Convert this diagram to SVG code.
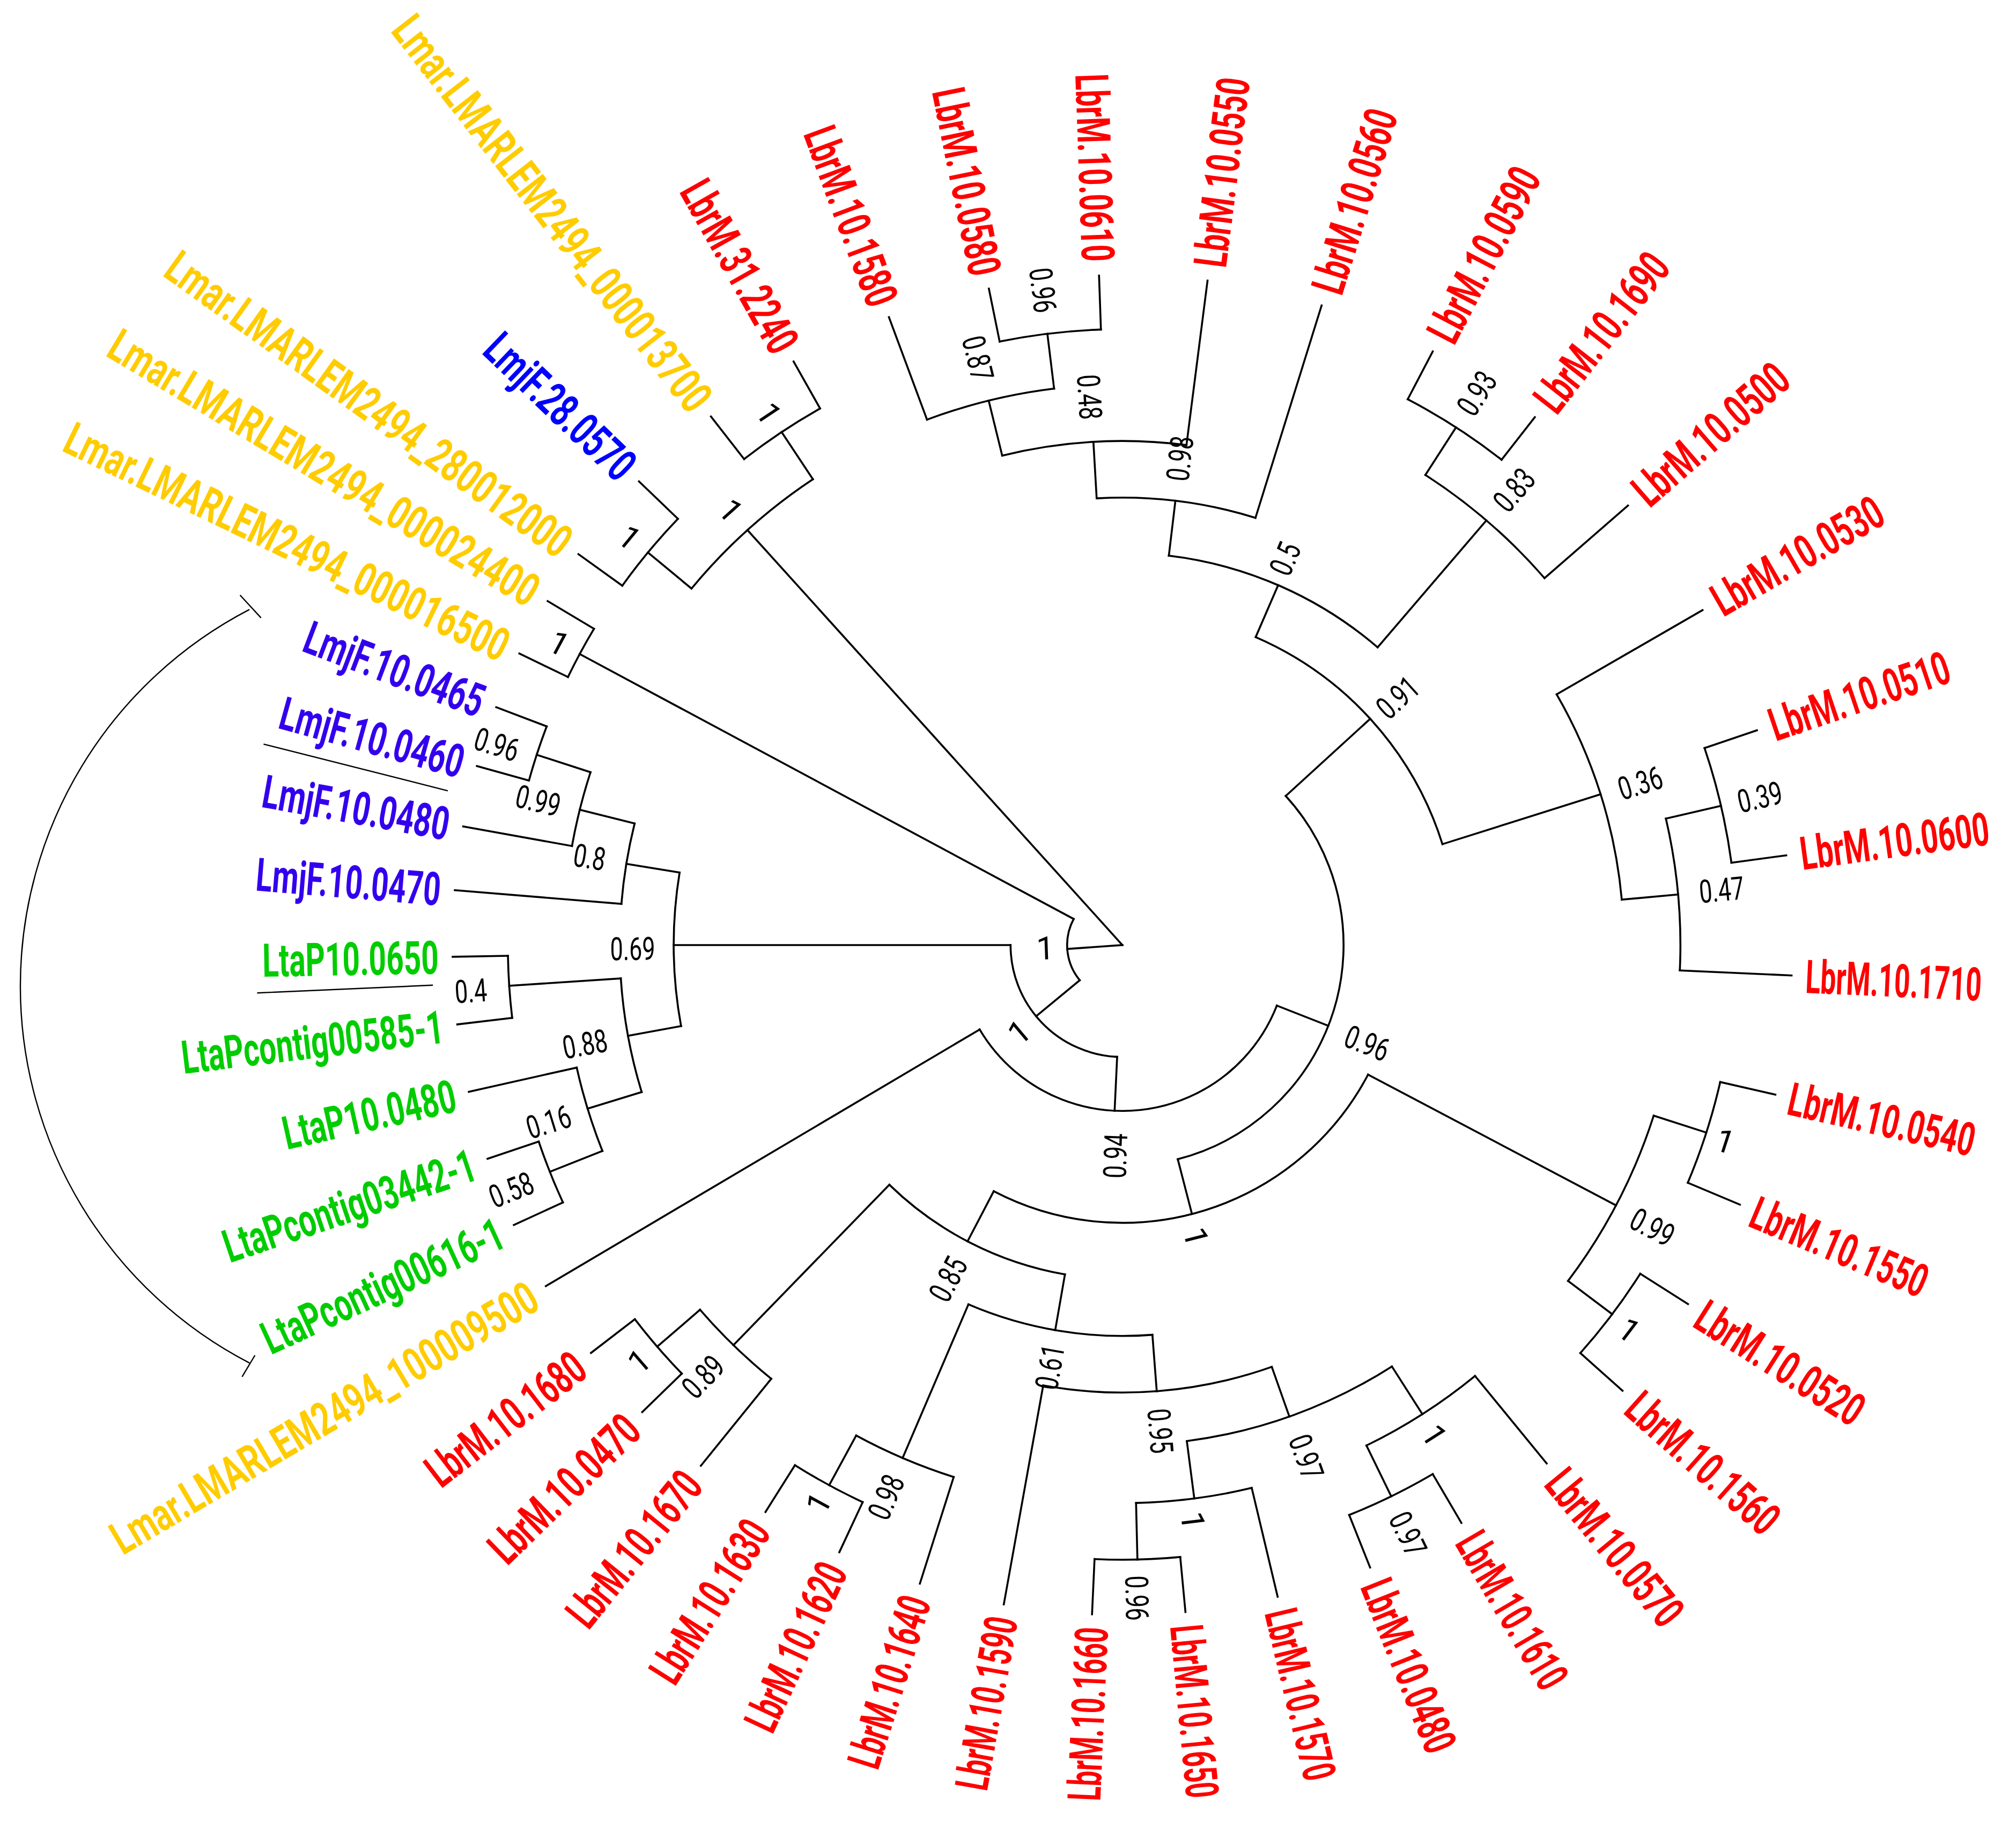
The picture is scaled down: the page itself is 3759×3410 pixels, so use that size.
<svg xmlns="http://www.w3.org/2000/svg" width="3759" height="3410" viewBox="0 0 3759 3410">
<style>
.br{fill:none;stroke:#000;stroke-width:1.5;stroke-linecap:square}
.th{fill:none;stroke:#000;stroke-width:1}
.lf{font-family:Roboto,"Liberation Sans",sans-serif;font-weight:700;font-size:36px}
.sp{font-family:Roboto,"Liberation Sans",sans-serif;font-size:25px;fill:#000;text-anchor:middle}
.r{fill:#ff0000}.y{fill:#ffcc00}.b{fill:#0000ff}.v{fill:#3300ee}.g{fill:#00cc00}
.e{text-anchor:end}
</style>
<rect width="3759" height="3410" fill="#fff"/>
<g transform="scale(2.3973)">
<g id="connectors" class="br" transform="translate(873,735)">
<line x2="43" transform="rotate(176)"/>
<line x1="43" x2="87" transform="rotate(140.5)"/>
<line x1="87" x2="129" transform="rotate(92.7)"/>
<line x1="129" x2="172" transform="rotate(21.4)"/>
<line x1="172" x2="216" transform="rotate(75.5)"/>
<line x1="172" x2="261" transform="rotate(-42.4)"/>
<line x1="261" x2="305" transform="rotate(-66.6)"/>
<line x1="305" x2="348" transform="rotate(-83.2)"/>
<line x1="348" x2="392" transform="rotate(-93.3)"/>
<line x1="392" x2="436" transform="rotate(-103.8)"/>
<line x1="436" x2="479" transform="rotate(-97)"/>
<line x1="305" x2="435" transform="rotate(-49.4)"/>
<line x1="435" x2="479" transform="rotate(-57.2)"/>
<line x1="261" x2="390" transform="rotate(-17.5)"/>
<line x1="390" x2="434" transform="rotate(-5.2)"/>
<line x1="434" x2="478" transform="rotate(-13.1)"/>
<line x1="216" x2="434" transform="rotate(27.8)"/>
<line x1="434" x2="477" transform="rotate(17.8)"/>
<line x1="434" x2="477" transform="rotate(37)"/>
<line x1="216" x2="260" transform="rotate(117.6)"/>
<line x1="260" x2="304" transform="rotate(99.9)"/>
<line x1="304" x2="348" transform="rotate(85.6)"/>
<line x1="348" x2="389" transform="rotate(70.5)"/>
<line x1="389" x2="434" transform="rotate(82.6)"/>
<line x1="434" x2="478" transform="rotate(88.6)"/>
<line x1="389" x2="433" transform="rotate(57.4)"/>
<line x1="433" x2="477" transform="rotate(64)"/>
<line x1="304" x2="434" transform="rotate(113.2)"/>
<line x1="434" x2="478" transform="rotate(118.5)"/>
<line x1="260" x2="434" transform="rotate(134.2)"/>
<line x1="434" x2="478" transform="rotate(139.2)"/>
<line x1="87" x2="349" transform="rotate(180)"/>
<line x1="349" x2="391" transform="rotate(189.3)"/>
<line x1="391" x2="435" transform="rotate(194)"/>
<line x1="435" x2="479" transform="rotate(198)"/>
<line x1="349" x2="391" transform="rotate(169.6)"/>
<line x1="391" x2="478" transform="rotate(176.2)"/>
<line x1="391" x2="435" transform="rotate(163)"/>
<line x1="435" x2="479" transform="rotate(158.4)"/>
<line x2="435" transform="rotate(-132.1)"/>
<line x1="435" x2="479" transform="rotate(-140.4)"/>
<line x1="435" x2="479" transform="rotate(-123.6)"/>
<line x1="43" x2="479" transform="rotate(208.2)"/>
<line x1="479" x2="521" transform="rotate(-119.4)"/>
<line x1="479" x2="521" transform="rotate(-127.9)"/>
<line x1="479" x2="521" transform="rotate(-136.2)"/>
<line x1="479" x2="521" transform="rotate(-144.3)"/>
<line x1="479" x2="521" transform="rotate(-149.1)"/>
<line x1="479" x2="521" transform="rotate(-154.2)"/>
<line x1="479" x2="521" transform="rotate(-159.2)"/>
<line x1="479" x2="521" transform="rotate(-164.5)"/>
<line x1="435" x2="521" transform="rotate(-169.8)"/>
<line x1="391" x2="521" transform="rotate(-175.3)"/>
<line x1="478" x2="521" transform="rotate(179)"/>
<line x1="478" x2="521" transform="rotate(173.2)"/>
<line x1="435" x2="521" transform="rotate(167.35)"/>
<line x1="479" x2="521" transform="rotate(161.4)"/>
<line x1="479" x2="521" transform="rotate(155.3)"/>
<line x1="129" x2="521" transform="rotate(149.4)"/>
<line x1="478" x2="521" transform="rotate(142.5)"/>
<line x1="478" x2="521" transform="rotate(135.8)"/>
<line x1="434" x2="521" transform="rotate(129)"/>
<line x1="478" x2="521" transform="rotate(122.2)"/>
<line x1="478" x2="521" transform="rotate(115)"/>
<line x1="434" x2="521" transform="rotate(107.6)"/>
<line x1="348" x2="521" transform="rotate(100.2)"/>
<line x1="478" x2="521" transform="rotate(92.6)"/>
<line x1="478" x2="521" transform="rotate(84.6)"/>
<line x1="434" x2="521" transform="rotate(76.6)"/>
<line x1="477" x2="521" transform="rotate(68.3)"/>
<line x1="477" x2="521" transform="rotate(59.6)"/>
<line x1="433" x2="521" transform="rotate(50.7)"/>
<line x1="477" x2="521" transform="rotate(41.7)"/>
<line x1="477" x2="521" transform="rotate(32.4)"/>
<line x1="477" x2="521" transform="rotate(22.8)"/>
<line x1="477" x2="521" transform="rotate(12.9)"/>
<line x1="434" x2="521" transform="rotate(2.6)"/>
<line x1="478" x2="521" transform="rotate(-7.7)"/>
<line x1="478" x2="521" transform="rotate(-18.7)"/>
<line x1="390" x2="521" transform="rotate(-30)"/>
<line x1="435" x2="521" transform="rotate(-41)"/>
<line x1="479" x2="521" transform="rotate(-52)"/>
<line x1="479" x2="521" transform="rotate(-62.4)"/>
<line x1="348" x2="521" transform="rotate(-72.7)"/>
<line x1="392" x2="521" transform="rotate(-82.7)"/>
<line x1="479" x2="521" transform="rotate(-92)"/>
<line x1="479" x2="521" transform="rotate(-101.5)"/>
<line x1="436" x2="521" transform="rotate(-110.4)"/>
<circle r="43" stroke-dasharray="50.81 5000" transform="rotate(140.5)"/>
<circle r="87" stroke-dasharray="132.56 5000" transform="rotate(92.7)"/>
<circle r="129" stroke-dasharray="288.19 5000" transform="rotate(21.4)"/>
<circle r="172" stroke-dasharray="353.93 5000" transform="rotate(-42.4)"/>
<circle r="216" stroke-dasharray="338.54 5000" transform="rotate(27.8)"/>
<circle r="261" stroke-dasharray="223.67 5000" transform="rotate(-66.6)"/>
<circle r="305" stroke-dasharray="179.93 5000" transform="rotate(-83.2)"/>
<circle r="348" stroke-dasharray="125.12 5000" transform="rotate(-93.3)"/>
<circle r="392" stroke-dasharray="144.36 5000" transform="rotate(-103.8)"/>
<circle r="436" stroke-dasharray="101.97 5000" transform="rotate(-110.4)"/>
<circle r="479" stroke-dasharray="79.42 5000" transform="rotate(-101.5)"/>
<circle r="435" stroke-dasharray="123 5000" transform="rotate(-57.2)"/>
<circle r="479" stroke-dasharray="86.95 5000" transform="rotate(-62.4)"/>
<circle r="390" stroke-dasharray="168.81 5000" transform="rotate(-30)"/>
<circle r="434" stroke-dasharray="118.92 5000" transform="rotate(-13.1)"/>
<circle r="478" stroke-dasharray="91.77 5000" transform="rotate(-18.7)"/>
<circle r="434" stroke-dasharray="145.44 5000" transform="rotate(17.8)"/>
<circle r="477" stroke-dasharray="82.42 5000" transform="rotate(12.9)"/>
<circle r="477" stroke-dasharray="77.42 5000" transform="rotate(32.4)"/>
<circle r="260" stroke-dasharray="155.65 5000" transform="rotate(99.9)"/>
<circle r="304" stroke-dasharray="146.44 5000" transform="rotate(85.6)"/>
<circle r="348" stroke-dasharray="180.39 5000" transform="rotate(70.5)"/>
<circle r="389" stroke-dasharray="171.09 5000" transform="rotate(57.4)"/>
<circle r="434" stroke-dasharray="90.9 5000" transform="rotate(76.6)"/>
<circle r="478" stroke-dasharray="66.74 5000" transform="rotate(84.6)"/>
<circle r="433" stroke-dasharray="100.51 5000" transform="rotate(50.7)"/>
<circle r="477" stroke-dasharray="72.43 5000" transform="rotate(59.6)"/>
<circle r="434" stroke-dasharray="82.56 5000" transform="rotate(107.6)"/>
<circle r="478" stroke-dasharray="60.07 5000" transform="rotate(115)"/>
<circle r="434" stroke-dasharray="77.26 5000" transform="rotate(129)"/>
<circle r="478" stroke-dasharray="55.9 5000" transform="rotate(135.8)"/>
<circle r="349" stroke-dasharray="120 5000" transform="rotate(169.6)"/>
<circle r="391" stroke-dasharray="63.47 5000" transform="rotate(184.7)"/>
<circle r="435" stroke-dasharray="59.22 5000" transform="rotate(190.2)"/>
<circle r="479" stroke-dasharray="44.31 5000" transform="rotate(195.5)"/>
<circle r="391" stroke-dasharray="90.08 5000" transform="rotate(163)"/>
<circle r="478" stroke-dasharray="48.39 5000" transform="rotate(173.2)"/>
<circle r="435" stroke-dasharray="67.95 5000" transform="rotate(158.4)"/>
<circle r="479" stroke-dasharray="51 5000" transform="rotate(155.3)"/>
<circle r="435" stroke-dasharray="127.55 5000" transform="rotate(-140.4)"/>
<circle r="479" stroke-dasharray="67.72 5000" transform="rotate(-144.3)"/>
<circle r="479" stroke-dasharray="71.06 5000" transform="rotate(-127.9)"/>
<circle r="479" stroke-dasharray="42.64 5000" transform="rotate(-154.2)"/>
</g>
<g id="bracket">
<path class="th" d="M194,474 A330,330 0 0 0 194,1060"/>
<line class="th" x1="186.7" y1="462.8" x2="203" y2="480.5"/>
<line class="th" x1="188.3" y1="1070.7" x2="198.3" y2="1054"/>
<line class="th" x1="205" y1="578.7" x2="348.3" y2="615"/>
<line class="th" x1="200" y1="772.2" x2="336.7" y2="766.2"/>
</g>
<g id="support">
<g id="n-s" transform="translate(873,735) rotate(178) translate(60,0) rotate(180)"><text class="sp" dy="0.36em">1</text></g>
<g id="n-a" transform="translate(873,735) rotate(140) translate(105,0) rotate(180)"><text class="sp" dy="0.36em">1</text></g>
<g id="n-b" transform="translate(873,735) rotate(92) translate(164,0) rotate(180)"><text class="sp" dy="0.36em" textLength="35" lengthAdjust="spacingAndGlyphs">0.94</text></g>
<g id="n-d" transform="translate(873,735) rotate(21.8) translate(205,0)"><text class="sp" dy="0.36em" textLength="35" lengthAdjust="spacingAndGlyphs">0.96</text></g>
<g id="n-e" transform="translate(873,735) rotate(75.8) translate(234,0)"><text class="sp" dy="0.36em">1</text></g>
<g id="n-91" transform="translate(873,735) rotate(-42) translate(288,0)"><text class="sp" dy="0.36em" textLength="35" lengthAdjust="spacingAndGlyphs">0.91</text></g>
<g id="n-5" transform="translate(873,735) rotate(-67.2) translate(326,0)"><text class="sp" dy="0.36em" textLength="25" lengthAdjust="spacingAndGlyphs">0.5</text></g>
<g id="n-98t" transform="translate(873,735) rotate(-83.3) translate(381,0)"><text class="sp" dy="0.36em" textLength="35" lengthAdjust="spacingAndGlyphs">0.98</text></g>
<g id="n-48" transform="translate(873,735) rotate(-93.4) translate(427,0) rotate(180)"><text class="sp" dy="0.36em" textLength="35" lengthAdjust="spacingAndGlyphs">0.48</text></g>
<g id="n-87" transform="translate(873,735) rotate(-103.8) translate(470,0) rotate(180)"><text class="sp" dy="0.36em" textLength="35" lengthAdjust="spacingAndGlyphs">0.87</text></g>
<g id="n-96t" transform="translate(873,735) rotate(-96.9) translate(513,0) rotate(180)"><text class="sp" dy="0.36em" textLength="35" lengthAdjust="spacingAndGlyphs">0.96</text></g>
<g id="n-83" transform="translate(873,735) rotate(-49.3) translate(467,0)"><text class="sp" dy="0.36em" textLength="35" lengthAdjust="spacingAndGlyphs">0.83</text></g>
<g id="n-93" transform="translate(873,735) rotate(-57.3) translate(510,0)"><text class="sp" dy="0.36em" textLength="35" lengthAdjust="spacingAndGlyphs">0.93</text></g>
<g id="n-36" transform="translate(873,735) rotate(-17.4) translate(422,0)"><text class="sp" dy="0.36em" textLength="35" lengthAdjust="spacingAndGlyphs">0.36</text></g>
<g id="n-47" transform="translate(873,735) rotate(-5.3) translate(468,0)"><text class="sp" dy="0.36em" textLength="35" lengthAdjust="spacingAndGlyphs">0.47</text></g>
<g id="n-39" transform="translate(873,735) rotate(-13.1) translate(509,0)"><text class="sp" dy="0.36em" textLength="35" lengthAdjust="spacingAndGlyphs">0.39</text></g>
<g id="n-99r" transform="translate(873,735) rotate(28) translate(467,0)"><text class="sp" dy="0.36em" textLength="35" lengthAdjust="spacingAndGlyphs">0.99</text></g>
<g id="n-1ru" transform="translate(873,735) rotate(18) translate(493,0)"><text class="sp" dy="0.36em">1</text></g>
<g id="n-1rl" transform="translate(873,735) rotate(37.2) translate(495,0)"><text class="sp" dy="0.36em">1</text></g>
<g id="n-85" transform="translate(873,735) rotate(117.6) translate(293,0) rotate(180)"><text class="sp" dy="0.36em" textLength="35" lengthAdjust="spacingAndGlyphs">0.85</text></g>
<g id="n-61" transform="translate(873,735) rotate(99.8) translate(333,0) rotate(180)"><text class="sp" dy="0.36em" textLength="35" lengthAdjust="spacingAndGlyphs">0.61</text></g>
<g id="n-95" transform="translate(873,735) rotate(85.5) translate(379,0)"><text class="sp" dy="0.36em" textLength="35" lengthAdjust="spacingAndGlyphs">0.95</text></g>
<g id="n-97a" transform="translate(873,735) rotate(70.2) translate(423,0)"><text class="sp" dy="0.36em" textLength="35" lengthAdjust="spacingAndGlyphs">0.97</text></g>
<g id="n-1b" transform="translate(873,735) rotate(83) translate(451,0)"><text class="sp" dy="0.36em">1</text></g>
<g id="n-1c" transform="translate(873,735) rotate(57.5) translate(452,0)"><text class="sp" dy="0.36em">1</text></g>
<g id="n-97b" transform="translate(873,735) rotate(64.1) translate(509,0)"><text class="sp" dy="0.36em" textLength="35" lengthAdjust="spacingAndGlyphs">0.97</text></g>
<g id="n-96b" transform="translate(873,735) rotate(88.7) translate(508,0)"><text class="sp" dy="0.36em" textLength="35" lengthAdjust="spacingAndGlyphs">0.96</text></g>
<g id="n-98b" transform="translate(873,735) rotate(113.2) translate(467,0) rotate(180)"><text class="sp" dy="0.36em" textLength="35" lengthAdjust="spacingAndGlyphs">0.98</text></g>
<g id="n-1d" transform="translate(873,735) rotate(118.6) translate(494,0) rotate(180)"><text class="sp" dy="0.36em">1</text></g>
<g id="n-89" transform="translate(873,735) rotate(134.2) translate(468,0) rotate(180)"><text class="sp" dy="0.36em" textLength="35" lengthAdjust="spacingAndGlyphs">0.89</text></g>
<g id="n-1e" transform="translate(873,735) rotate(139.3) translate(496,0) rotate(180)"><text class="sp" dy="0.36em">1</text></g>
<g id="n-top" transform="translate(873,735) rotate(-132) translate(455,0) rotate(180)"><text class="sp" dy="0.36em">1</text></g>
<g id="n-1f" transform="translate(873,735) rotate(-140.4) translate(497.5,0) rotate(180)"><text class="sp" dy="0.36em">1</text></g>
<g id="n-1g" transform="translate(873,735) rotate(-123.6) translate(496.5,0) rotate(180)"><text class="sp" dy="0.36em">1</text></g>
<g id="n-1h" transform="translate(873,735) rotate(-151.8) translate(497,0) rotate(180)"><text class="sp" dy="0.36em">1</text></g>
<g id="n-69" transform="translate(873,735) rotate(179.6) translate(381,0) rotate(180)"><text class="sp" dy="0.36em" textLength="35" lengthAdjust="spacingAndGlyphs">0.69</text></g>
<g id="n-8" transform="translate(873,735) rotate(-170.6) translate(420,0) rotate(180)"><text class="sp" dy="0.36em" textLength="25" lengthAdjust="spacingAndGlyphs">0.8</text></g>
<g id="n-99l" transform="translate(873,735) rotate(-166.1) translate(468,0) rotate(180)"><text class="sp" dy="0.36em" textLength="35" lengthAdjust="spacingAndGlyphs">0.99</text></g>
<g id="n-96l" transform="translate(873,735) rotate(-162.2) translate(511,0) rotate(180)"><text class="sp" dy="0.36em" textLength="35" lengthAdjust="spacingAndGlyphs">0.96</text></g>
<g id="n-88" transform="translate(873,735) rotate(169.6) translate(425,0) rotate(180)"><text class="sp" dy="0.36em" textLength="35" lengthAdjust="spacingAndGlyphs">0.88</text></g>
<g id="n-4" transform="translate(873,735) rotate(176) translate(508,0) rotate(180)"><text class="sp" dy="0.36em" textLength="25" lengthAdjust="spacingAndGlyphs">0.4</text></g>
<g id="n-16" transform="translate(873,735) rotate(162.9) translate(467,0) rotate(180)"><text class="sp" dy="0.36em" textLength="35" lengthAdjust="spacingAndGlyphs">0.16</text></g>
<g id="n-58" transform="translate(873,735) rotate(158.2) translate(512,0) rotate(180)"><text class="sp" dy="0.36em" textLength="35" lengthAdjust="spacingAndGlyphs">0.58</text></g>
</g>
<g id="leaves">
<g id="leaf-LbrM.31.2240" transform="translate(873,735) rotate(-119.4) translate(532,0) rotate(180)"><text class="lf r e" dy="0.36em" textLength="148" lengthAdjust="spacingAndGlyphs">LbrM.31.2240</text></g>
<g id="leaf-Lmar13700" transform="translate(873,735) rotate(-127.9) translate(532,0) rotate(180)"><text class="lf y e" dy="0.36em" textLength="379" lengthAdjust="spacingAndGlyphs">Lmar.LMARLEM2494_000013700</text></g>
<g id="leaf-LmjF.28.0570" transform="translate(873,735) rotate(-136.2) translate(532,0) rotate(180)"><text class="lf b e" dy="0.36em" textLength="147" lengthAdjust="spacingAndGlyphs">LmjF.28.0570</text></g>
<g id="leaf-Lmar280012000" transform="translate(873,735) rotate(-144.3) translate(532,0) rotate(180)"><text class="lf y e" dy="0.36em" textLength="379" lengthAdjust="spacingAndGlyphs">Lmar.LMARLEM2494_280012000</text></g>
<g id="leaf-Lmar24400" transform="translate(873,735) rotate(-149.1) translate(532,0) rotate(180)"><text class="lf y e" dy="0.36em" textLength="383" lengthAdjust="spacingAndGlyphs">Lmar.LMARLEM2494_000024400</text></g>
<g id="leaf-Lmar16500" transform="translate(873,735) rotate(-154.2) translate(532,0) rotate(180)"><text class="lf y e" dy="0.36em" textLength="379" lengthAdjust="spacingAndGlyphs">Lmar.LMARLEM2494_000016500</text></g>
<g id="leaf-LmjF.10.0465" transform="translate(873,735) rotate(-159.2) translate(532,0) rotate(180)"><text class="lf v e" dy="0.36em" textLength="147" lengthAdjust="spacingAndGlyphs">LmjF.10.0465</text></g>
<g id="leaf-LmjF.10.0460" transform="translate(873,735) rotate(-164.5) translate(532,0) rotate(180)"><text class="lf v e" dy="0.36em" textLength="147" lengthAdjust="spacingAndGlyphs">LmjF.10.0460</text></g>
<g id="leaf-LmjF.10.0480" transform="translate(873,735) rotate(-169.8) translate(532,0) rotate(180)"><text class="lf v e" dy="0.36em" textLength="147" lengthAdjust="spacingAndGlyphs">LmjF.10.0480</text></g>
<g id="leaf-LmjF.10.0470" transform="translate(873,735) rotate(-175.3) translate(532,0) rotate(180)"><text class="lf v e" dy="0.36em" textLength="144" lengthAdjust="spacingAndGlyphs">LmjF.10.0470</text></g>
<g id="leaf-LtaP10.0650" transform="translate(873,735) rotate(179) translate(532,0) rotate(180)"><text class="lf g e" dy="0.36em" textLength="137" lengthAdjust="spacingAndGlyphs">LtaP10.0650</text></g>
<g id="leaf-LtaPcontig00585-1" transform="translate(873,735) rotate(173.2) translate(532,0) rotate(180)"><text class="lf g e" dy="0.36em" textLength="205" lengthAdjust="spacingAndGlyphs">LtaPcontig00585-1</text></g>
<g id="leaf-LtaP10.0480" transform="translate(873,735) rotate(167.35) translate(532,0) rotate(180)"><text class="lf g e" dy="0.36em" textLength="137" lengthAdjust="spacingAndGlyphs">LtaP10.0480</text></g>
<g id="leaf-LtaPcontig03442-1" transform="translate(873,735) rotate(161.4) translate(532,0) rotate(180)"><text class="lf g e" dy="0.36em" textLength="205" lengthAdjust="spacingAndGlyphs">LtaPcontig03442-1</text></g>
<g id="leaf-LtaPcontig00616-1" transform="translate(873,735) rotate(155.3) translate(532,0) rotate(180)"><text class="lf g e" dy="0.36em" textLength="203" lengthAdjust="spacingAndGlyphs">LtaPcontig00616-1</text></g>
<g id="leaf-Lmar100009500" transform="translate(873,735) rotate(149.4) translate(532,0) rotate(180)"><text class="lf y e" dy="0.36em" textLength="379" lengthAdjust="spacingAndGlyphs">Lmar.LMARLEM2494_100009500</text></g>
<g id="leaf-LbrM.10.1680" transform="translate(873,735) rotate(142.5) translate(532,0) rotate(180)"><text class="lf r e" dy="0.36em" textLength="146" lengthAdjust="spacingAndGlyphs">LbrM.10.1680</text></g>
<g id="leaf-LbrM.10.0470" transform="translate(873,735) rotate(135.8) translate(532,0) rotate(180)"><text class="lf r e" dy="0.36em" textLength="148" lengthAdjust="spacingAndGlyphs">LbrM.10.0470</text></g>
<g id="leaf-LbrM.10.1670" transform="translate(873,735) rotate(129) translate(532,0) rotate(180)"><text class="lf r e" dy="0.36em" textLength="144" lengthAdjust="spacingAndGlyphs">LbrM.10.1670</text></g>
<g id="leaf-LbrM.10.1630" transform="translate(873,735) rotate(122.2) translate(532,0) rotate(180)"><text class="lf r e" dy="0.36em" textLength="142" lengthAdjust="spacingAndGlyphs">LbrM.10.1630</text></g>
<g id="leaf-LbrM.10.1620" transform="translate(873,735) rotate(115) translate(532,0) rotate(180)"><text class="lf r e" dy="0.36em" textLength="140" lengthAdjust="spacingAndGlyphs">LbrM.10.1620</text></g>
<g id="leaf-LbrM.10.1640" transform="translate(873,735) rotate(107.6) translate(532,0) rotate(180)"><text class="lf r e" dy="0.36em" textLength="138" lengthAdjust="spacingAndGlyphs">LbrM.10.1640</text></g>
<g id="leaf-LbrM.10.1590" transform="translate(873,735) rotate(100.2) translate(531,0) rotate(180)"><text class="lf r e" dy="0.36em" textLength="136" lengthAdjust="spacingAndGlyphs">LbrM.10.1590</text></g>
<g id="leaf-LbrM.10.1660" transform="translate(873,735) rotate(92.6) translate(531,0) rotate(180)"><text class="lf r e" dy="0.36em" textLength="135" lengthAdjust="spacingAndGlyphs">LbrM.10.1660</text></g>
<g id="leaf-LbrM.10.1650" transform="translate(873,735) rotate(84.6)"><text class="lf r" x="531" dy="0.36em" textLength="135" lengthAdjust="spacingAndGlyphs">LbrM.10.1650</text></g>
<g id="leaf-LbrM.10.1570" transform="translate(873,735) rotate(76.6)"><text class="lf r" x="531" dy="0.36em" textLength="136" lengthAdjust="spacingAndGlyphs">LbrM.10.1570</text></g>
<g id="leaf-LbrM.10.0480" transform="translate(873,735) rotate(68.3)"><text class="lf r" x="532" dy="0.36em" textLength="142" lengthAdjust="spacingAndGlyphs">LbrM.10.0480</text></g>
<g id="leaf-LbrM.10.1610" transform="translate(873,735) rotate(59.6)"><text class="lf r" x="532" dy="0.36em" textLength="135" lengthAdjust="spacingAndGlyphs">LbrM.10.1610</text></g>
<g id="leaf-LbrM.10.0570" transform="translate(873,735) rotate(50.7)"><text class="lf r" x="532" dy="0.36em" textLength="146" lengthAdjust="spacingAndGlyphs">LbrM.10.0570</text></g>
<g id="leaf-LbrM.10.1560" transform="translate(873,735) rotate(41.7)"><text class="lf r" x="532" dy="0.36em" textLength="146" lengthAdjust="spacingAndGlyphs">LbrM.10.1560</text></g>
<g id="leaf-LbrM.10.0520" transform="translate(873,735) rotate(32.4)"><text class="lf r" x="532" dy="0.36em" textLength="148" lengthAdjust="spacingAndGlyphs">LbrM.10.0520</text></g>
<g id="leaf-LbrM.10.1550" transform="translate(873,735) rotate(22.8)"><text class="lf r" x="532" dy="0.36em" textLength="146" lengthAdjust="spacingAndGlyphs">LbrM.10.1550</text></g>
<g id="leaf-LbrM.10.0540" transform="translate(873,735) rotate(12.9)"><text class="lf r" x="532" dy="0.36em" textLength="148" lengthAdjust="spacingAndGlyphs">LbrM.10.0540</text></g>
<g id="leaf-LbrM.10.1710" transform="translate(873,735) rotate(2.6)"><text class="lf r" x="532" dy="0.36em" textLength="137" lengthAdjust="spacingAndGlyphs">LbrM.10.1710</text></g>
<g id="leaf-LbrM.10.0600" transform="translate(873,735) rotate(-7.7)"><text class="lf r" x="532" dy="0.36em" textLength="148" lengthAdjust="spacingAndGlyphs">LbrM.10.0600</text></g>
<g id="leaf-LbrM.10.0510" transform="translate(873,735) rotate(-18.7)"><text class="lf r" x="532" dy="0.36em" textLength="146" lengthAdjust="spacingAndGlyphs">LbrM.10.0510</text></g>
<g id="leaf-LbrM.10.0530" transform="translate(873,735) rotate(-30)"><text class="lf r" x="532" dy="0.36em" textLength="148" lengthAdjust="spacingAndGlyphs">LbrM.10.0530</text></g>
<g id="leaf-LbrM.10.0500" transform="translate(873,735) rotate(-41)"><text class="lf r" x="532" dy="0.36em" textLength="148" lengthAdjust="spacingAndGlyphs">LbrM.10.0500</text></g>
<g id="leaf-LbrM.10.1690" transform="translate(873,735) rotate(-52)"><text class="lf r" x="532" dy="0.36em" textLength="146" lengthAdjust="spacingAndGlyphs">LbrM.10.1690</text></g>
<g id="leaf-LbrM.10.0590" transform="translate(873,735) rotate(-62.4)"><text class="lf r" x="532" dy="0.36em" textLength="148" lengthAdjust="spacingAndGlyphs">LbrM.10.0590</text></g>
<g id="leaf-LbrM.10.0560" transform="translate(873,735) rotate(-72.7)"><text class="lf r" x="532" dy="0.36em" textLength="148" lengthAdjust="spacingAndGlyphs">LbrM.10.0560</text></g>
<g id="leaf-LbrM.10.0550" transform="translate(873,735) rotate(-82.7)"><text class="lf r" x="532" dy="0.36em" textLength="148" lengthAdjust="spacingAndGlyphs">LbrM.10.0550</text></g>
<g id="leaf-LbrM.10.0610" transform="translate(873,735) rotate(-92) translate(532,0) rotate(180)"><text class="lf r e" dy="0.36em" textLength="146" lengthAdjust="spacingAndGlyphs">LbrM.10.0610</text></g>
<g id="leaf-LbrM.10.0580" transform="translate(873,735) rotate(-101.5) translate(532,0) rotate(180)"><text class="lf r e" dy="0.36em" textLength="148" lengthAdjust="spacingAndGlyphs">LbrM.10.0580</text></g>
<g id="leaf-LbrM.10.1580" transform="translate(873,735) rotate(-110.4) translate(532,0) rotate(180)"><text class="lf r e" dy="0.36em" textLength="146" lengthAdjust="spacingAndGlyphs">LbrM.10.1580</text></g>
</g>
</g>
</svg>
